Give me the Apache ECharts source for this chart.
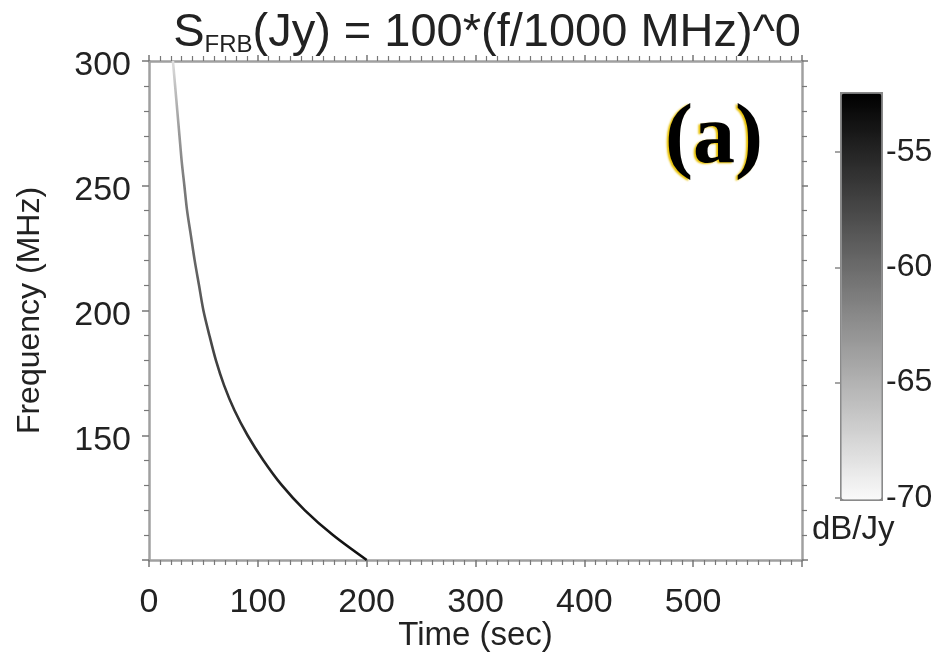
<!DOCTYPE html>
<html>
<head>
<meta charset="utf-8">
<script src="https://cdn.jsdelivr.net/npm/echarts@6/dist/echarts.min.js"></script>
<style>html,body{margin:0;padding:0;background:#fff}#c{width:937px;height:654px}</style>
</head>
<body>
<div id="c"></div>
<script>
// Frequency samples (MHz) along the dispersed burst track
const freqs = [100,110,120,130,140,150,160,170,180,190,200,210,220,230,240,250,260,270,280,290,300];
// Arrival time (sec) for each frequency
const times = [200,169,143,122,105,90.5,78.5,69,61.5,55.5,50,46,42,38.5,35,32.5,30,28,26,24,22];
// Intensity (dB/Jy) read from the grey level of the track
const intensity = [-53.5,-53.8,-54.2,-54.6,-55,-55.5,-56,-56.5,-57,-57.6,-58.3,-59,-59.5,-60,-60.5,-61,-62,-63,-64.5,-66,-68];
// Colour bar range and labels
const cbMin = -70, cbMax = -52.4;
const cbTicks = [-70,-65,-60,-55];
const xTickLabels = [0,100,200,300,400,500];
const yTickLabels = [150,200,250,300];

function grey(db){
  let t = (db - cbMin) / (cbMax - cbMin);
  t = Math.max(0, Math.min(1, t));
  const g = Math.round(250 * (1 - t));
  return 'rgb(' + g + ',' + g + ',' + g + ')';
}

const trackData = freqs.map((f, i) => [times[i], f, intensity[i]]);
const font = 'Liberation Sans, Arial, sans-serif';
const tickColor = '#777';
const axisLineColor = '#a0a0a0';

const chart = echarts.init(document.getElementById('c'), null, {renderer: 'canvas'});
chart.setOption({
  backgroundColor: '#fff',
  animation: false,
  title: {
    left: 482, top: 5, textAlign: 'center',
    text: '{s|S}{sub|FRB}{s|(Jy) = 100*(f/1000 MHz)^0}',
    textStyle: {
      fontWeight: 'normal',
      rich: {
        s: {fontFamily: font, fontSize: 47, fontWeight: 'normal', color: '#222', lineHeight: 47, verticalAlign: 'top'},
        sub: {fontFamily: font, fontSize: 24, fontWeight: 'normal', color: '#222', lineHeight: 20, verticalAlign: 'bottom'}
      }
    }
  },
  grid: [
    {left: 149, right: 135, top: 61, bottom: 94, outerBoundsMode: 'none', containLabel: false},
    {left: 840, top: 92, width: 40, height: 406, outerBoundsMode: 'none', containLabel: false}
  ],
  xAxis: [
    {
      type: 'value', gridIndex: 0, min: 0, max: 600, interval: 100,
      name: 'Time (sec)', nameLocation: 'middle', nameGap: 59, nameMoveOverlap: false,
      nameTextStyle: {fontFamily: font, fontSize: 33, color: '#222'},
      axisLine: {show: true, onZero: false, lineStyle: {color: axisLineColor, width: 2.5}},
      axisTick: {show: true, length: 7, lineStyle: {color: tickColor, width: 1.5}},
      minorTick: {show: true, splitNumber: 10, length: 5, lineStyle: {color: tickColor, width: 1.2}},
      splitLine: {show: false},
      axisLabel: {fontFamily: font, fontSize: 34, color: '#222', margin: 26,
        showMaxLabel: false,
        formatter: v => xTickLabels.indexOf(v) >= 0 ? String(v) : ''}
    },
    {
      type: 'value', gridIndex: 0, position: 'top', min: 0, max: 600, interval: 100,
      axisLine: {show: true, onZero: false, lineStyle: {color: axisLineColor, width: 2.5}},
      axisTick: {show: true, length: 6, lineStyle: {color: tickColor, width: 1.5}},
      minorTick: {show: true, splitNumber: 10, length: 5, lineStyle: {color: tickColor, width: 1.2}},
      splitLine: {show: false},
      axisLabel: {show: false}
    },
    {
      type: 'value', gridIndex: 1, min: 0, max: 1, show: false
    }
  ],
  yAxis: [
    {
      type: 'value', gridIndex: 0, min: 100, max: 300, interval: 50,
      name: 'Frequency (MHz)', nameLocation: 'middle', nameGap: 103, nameMoveOverlap: false,
      nameTextStyle: {fontFamily: font, fontSize: 32, color: '#222'},
      axisLine: {show: true, onZero: false, lineStyle: {color: axisLineColor, width: 2.5}},
      axisTick: {show: true, length: 7, lineStyle: {color: tickColor, width: 1.5}},
      minorTick: {show: true, splitNumber: 5, length: 5, lineStyle: {color: tickColor, width: 1.2}},
      splitLine: {show: false},
      axisLabel: {fontFamily: font, fontSize: 34, color: '#222', margin: 18,
        showMinLabel: false,
        rich: {a: {fontFamily: font, fontSize: 34, color: '#222', padding: [10, 0, 0, 0]}},
        formatter: v => yTickLabels.indexOf(v) >= 0 ? '{a|' + v + '}' : ''}
    },
    {
      type: 'value', gridIndex: 0, position: 'right', min: 100, max: 300, interval: 50,
      axisLine: {show: true, onZero: false, lineStyle: {color: axisLineColor, width: 2.5}},
      axisTick: {show: true, length: 6, lineStyle: {color: tickColor, width: 1.5}},
      minorTick: {show: true, splitNumber: 5, length: 5, lineStyle: {color: tickColor, width: 1.2}},
      splitLine: {show: false},
      axisLabel: {show: false}
    },
    {
      type: 'value', gridIndex: 1, position: 'right', min: cbMin, max: cbMax, interval: 5,
      axisLine: {show: false},
      axisTick: {show: true, inside: true, length: 5, lineStyle: {color: '#888', width: 1.5}},
      splitLine: {show: false},
      axisLabel: {fontFamily: font, fontSize: 32, color: '#222', margin: 6,
        showMaxLabel: false,
        formatter: v => cbTicks.indexOf(v) >= 0 ? String(v) : ''}
    }
  ],
  visualMap: [
    {
      type: 'continuous', show: false, seriesIndex: 0, dimension: 1,
      min: freqs[0], max: freqs[freqs.length - 1],
      inRange: {color: intensity.map(grey)}
    },
    {
      type: 'continuous', show: true, seriesIndex: 1, dimension: 1,
      min: cbMin, max: cbMax, calculable: false, hoverLink: false,
      left: 840, top: 92, itemWidth: 40, itemHeight: 406,
      padding: 0, borderColor: '#8a8a8a', borderWidth: 3,
      text: null, showLabel: false,
      inRange: {color: [grey(cbMin), grey(cbMax)]}
    }
  ],
  graphic: [
    {
      type: 'text', left: 812, top: 513, silent: true,
      style: {text: 'dB/Jy', fontFamily: font, fontSize: 33, fill: '#222'}
    },
    {
      type: 'text', left: 665, top: 98, silent: true,
      style: {text: '(a)', fontFamily: 'Liberation Serif, DejaVu Serif, serif', fontWeight: 'bold',
        fontSize: 84, fill: '#000',
        textShadowColor: '#e8c000', textShadowOffsetX: -2, textShadowOffsetY: 1, textShadowBlur: 2}
    }
  ],
  series: [
    {
      type: 'line', xAxisIndex: 0, yAxisIndex: 0, data: trackData,
      showSymbol: false, smooth: 0.3, lineStyle: {width: 2.6}, z: 5
    },
    {
      type: 'scatter', xAxisIndex: 2, yAxisIndex: 2, data: [], symbolSize: 0
    }
  ]
});
</script>
</body>
</html>
